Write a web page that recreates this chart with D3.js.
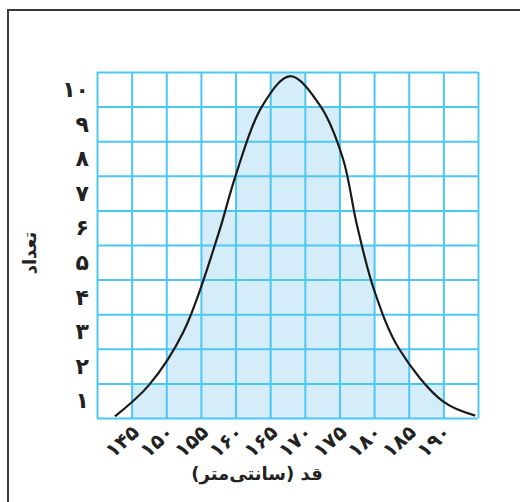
<!DOCTYPE html>
<html>
  <head>
    <meta charset="utf-8" />
    <title>Height histogram</title>
    <script src="https://d3js.org/d3.v7.js"></script>
    <style>
      body { margin: 0; background: #fff; }
      text { font-family: 'DejaVu Sans', sans-serif; }
    </style>
  </head>
  <body>
    <svg width="520" height="502"></svg>

    <script>
      // bins (left edge, cm) and counts
      const binStarts = [140, 145, 150, 155, 160, 165, 170, 175, 180, 185, 190];
      const counts = [0, 1, 3, 6, 9, 10, 9, 5, 2, 1, 0];

      // smooth curve
      const curveX = [142.6, 147.5, 152.5, 157.5, 160, 163.8, 167.9, 172.3, 175.5, 177.5, 180, 183.6, 190, 194.6];
      const curveY = [0.05, 0.95, 2.5, 5.3, 7.0, 9.0, 9.88, 9.0, 7.5, 5.6, 3.7, 2.0, 0.47, 0.07];

      const xTickValues = [145, 150, 155, 160, 165, 170, 175, 180, 185, 190];
      const xTickLabels = ['۱۴۵', '۱۵۰', '۱۵۵', '۱۶۰', '۱۶۵', '۱۷۰', '۱۷۵', '۱۸۰', '۱۸۵', '۱۹۰'];
      const yTickValues = [1, 2, 3, 4, 5, 6, 7, 8, 9, 10];
      const yTickLabels = ['۱', '۲', '۳', '۴', '۵', '۶', '۷', '۸', '۹', '۱۰'];

      const xLabelText = 'قد (سانتی‌متر)';
      const yLabelText = 'تعداد';

      (function (d3) {
        'use strict';

        const svg = d3.select('svg');

        // outer frame
        svg.append('rect')
          .attr('x', 8)
          .attr('y', 10)
          .attr('width', 540)
          .attr('height', 520)
          .attr('fill', 'none')
          .attr('stroke', '#3a3a3a')
          .attr('stroke-width', 2);

        const margin = { left: 97, right: 478, top: 72, bottom: 418 };
        const innerHeight = margin.bottom - margin.top;
        const innerWidth = margin.right - margin.left;

        const x = d3.scaleLinear().domain([140, 195]).range([margin.left, margin.right]);
        const y = d3.scaleLinear().domain([0, 10]).range([margin.bottom, margin.top]);

        const gridColor = '#4cc8f0';

        // histogram fill
        svg.append('g')
          .selectAll('rect')
          .data(binStarts.filter((d, i) => counts[i] > 0))
          .join('rect')
          .attr('x', (d) => x(d))
          .attr('width', (d) => x(d + 5) - x(d))
          .attr('y', (d) => y(counts[binStarts.indexOf(d)]))
          .attr('height', (d) => y(0) - y(counts[binStarts.indexOf(d)]))
          .attr('fill', '#d5ecf9');

        // grid lines
        const gx = svg.append('g')
          .attr('transform', `translate(0,${margin.bottom})`)
          .call(d3.axisBottom(x)
            .tickValues(binStarts.concat([195]))
            .tickSize(-innerHeight)
            .tickFormat(''));
        gx.select('.domain').remove();
        gx.selectAll('.tick line')
          .attr('stroke', gridColor)
          .attr('stroke-width', 2);

        const gy = svg.append('g')
          .attr('transform', `translate(${margin.left},0)`)
          .call(d3.axisLeft(y)
            .tickValues([0].concat(yTickValues))
            .tickSize(-innerWidth)
            .tickFormat(''));
        gy.select('.domain').remove();
        gy.selectAll('.tick line')
          .attr('stroke', gridColor)
          .attr('stroke-width', 2);

        // curve
        const line = d3.line()
          .x((d, i) => x(curveX[i]))
          .y((d, i) => y(curveY[i]))
          .curve(d3.curveCatmullRom.alpha(0.5));

        svg.append('path')
          .datum(curveX)
          .attr('d', line)
          .attr('fill', 'none')
          .attr('stroke', '#1a1a1a')
          .attr('stroke-width', 2.2);

        // x tick labels (rotated)
        svg.append('g')
          .selectAll('text')
          .data(xTickValues)
          .join('text')
          .attr('transform', (d) => `translate(${x(d) + 4},${margin.bottom + 11}) rotate(-42)`)
          .attr('text-anchor', 'end')
          .attr('dy', '0.35em')
          .style('font-size', '20px')
          .style('font-weight', 'bold')
          .attr('fill', '#222')
          .text((d, i) => xTickLabels[i]);

        // y tick labels, centred in each row
        svg.append('g')
          .selectAll('text')
          .data(yTickValues)
          .join('text')
          .attr('x', 89)
          .attr('y', (d) => y(d - 0.5))
          .attr('dy', '0.35em')
          .attr('text-anchor', 'end')
          .style('font-size', '22px')
          .style('font-weight', 'bold')
          .attr('fill', '#222')
          .text((d, i) => yTickLabels[i]);

        // axis titles
        svg.append('text')
          .attr('x', 257)
          .attr('y', 474)
          .attr('text-anchor', 'middle')
          .attr('dy', '0.35em')
          .style('font-size', '18px')
          .style('font-weight', 'bold')
          .attr('fill', '#222')
          .text(xLabelText);

        svg.append('text')
          .attr('transform', 'translate(30,253) rotate(-90)')
          .attr('text-anchor', 'middle')
          .attr('dy', '0.35em')
          .style('font-size', '18px')
          .style('font-weight', 'bold')
          .attr('fill', '#222')
          .text(yLabelText);
      })(d3);
    </script>
  </body>
</html>
